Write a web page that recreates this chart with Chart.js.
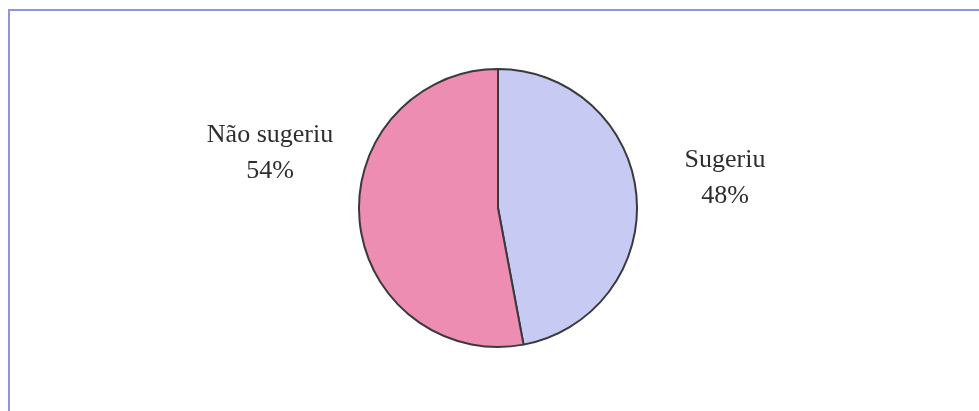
<!DOCTYPE html>
<html>
<head>
<meta charset="utf-8">
<script src="https://cdn.jsdelivr.net/npm/chart.js@4"></script>
<style>
  html, body { margin: 0; padding: 0; background: #fff; }
  .wrap { position: relative; width: 979px; height: 411px; }
  .frame { position: absolute; left: 8px; top: 9px; right: -5px; bottom: -5px;
           border-left: 2px solid #8e94e2; border-top: 2px solid #8e94e2; }
  canvas { position: absolute; left: 0; top: 0; }
</style>
</head>
<body>
<div class="wrap">
  <div class="frame"></div>
  <canvas id="miGrafico" width="979" height="411"></canvas>
</div>
<script>
// datos
const categorias = ['Sugeriu', 'Não sugeriu'];
const valores = [48, 54];
const etiquetas = ['48%', '54%'];
const colores = ['#c7cbf4', '#ec8db1'];

// etiquetas fuera del pastel
const posEtiquetas = [
  { dx: 227, dy: -48 },  // Sugeriu
  { dx: -228, dy: -73 }  // Não sugeriu
];

const etiquetasPlugin = {
  id: 'etiquetas',
  afterDraw(chart) {
    const c = chart.ctx;
    const arco = chart.getDatasetMeta(0).data[0];
    c.save();
    c.font = '26px "Liberation Serif", "Times New Roman", serif';
    c.fillStyle = '#2e2e2e';
    c.textAlign = 'center';
    c.textBaseline = 'middle';
    categorias.forEach(function(cat, i) {
      const x = arco.x + posEtiquetas[i].dx;
      const y = arco.y + posEtiquetas[i].dy;
      c.fillText(cat, x, y);
      c.fillText(etiquetas[i], x, y + 36);
    });
    c.restore();
  }
};

const ctx = document.getElementById('miGrafico');

new Chart(ctx, {
  type: 'pie',
  data: {
    labels: categorias,
    datasets: [{
      data: valores,
      backgroundColor: colores,
      borderColor: '#3a3a3a',
      borderWidth: 2
    }]
  },
  options: {
    responsive: false,
    animation: false,
    layout: { padding: { left: 17, right: 0, top: 68, bottom: 63 } },
    plugins: {
      legend: { display: false },
      tooltip: { enabled: false }
    }
  },
  plugins: [etiquetasPlugin]
});
</script>
</body>
</html>
